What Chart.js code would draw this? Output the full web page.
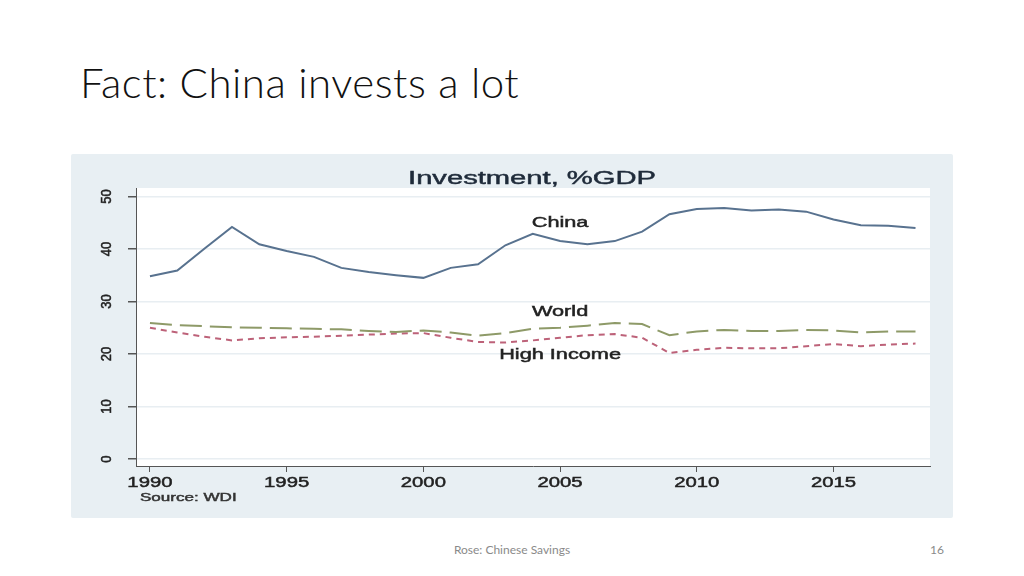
<!DOCTYPE html>
<html>
<head>
<meta charset="utf-8">
<title>Fact: China invests a lot</title>
<script src="https://cdn.jsdelivr.net/npm/chart.js@4.4.1/dist/chart.umd.min.js"></script>
<style>
  html, body { margin: 0; padding: 0; background: #fff; }
  body { width: 1024px; height: 576px; position: relative; overflow: hidden; font-family: Lato, "Open Sans", sans-serif; }
  #slideTitle { position: absolute; left: 80px; top: 61px; font-size: 42px; font-weight: 300; line-height: 1; letter-spacing: 0.5px; color: #111; white-space: nowrap; }
  #panel { position: absolute; left: 71px; top: 154px; width: 882px; height: 364px; background: #e8eff3; border-radius: 2px; }
  #footer { position: absolute; left: 0; width: 1024px; top: 542px; text-align: center; font-size: 12px; color: #8a8a8a; }
  #pageNum { position: absolute; right: 80px; top: 542px; font-size: 12px; color: #8a8a8a; }
</style>
</head>
<body>
<div id="slideTitle">Fact: China invests a lot</div>
<div id="panel"><canvas id="chart"></canvas></div>
<div id="footer">Rose: Chinese Savings</div>
<div id="pageNum">16</div>

<script>
// World Bank WDI, gross capital formation as % of GDP
const years = [1990, 1991, 1992, 1993, 1994, 1995, 1996, 1997, 1998, 1999,
               2000, 2001, 2002, 2003, 2004, 2005, 2006, 2007, 2008, 2009,
               2010, 2011, 2012, 2013, 2014, 2015, 2016, 2017, 2018];
const china = [34.8, 35.9, 40.1, 44.2, 40.9, 39.6, 38.5, 36.4, 35.6, 35.0,
               34.5, 36.4, 37.1, 40.7, 42.9, 41.5, 40.9, 41.5, 43.3, 46.6,
               47.6, 47.8, 47.3, 47.5, 47.1, 45.6, 44.5, 44.4, 44.0];
const world = [25.9, 25.5, 25.3, 25.1, 25.0, 24.9, 24.8, 24.7, 24.4, 24.2,
               24.5, 24.1, 23.5, 24.0, 24.8, 25.0, 25.4, 25.9, 25.7, 23.6,
               24.3, 24.6, 24.4, 24.4, 24.6, 24.5, 24.1, 24.3, 24.3];
const highIncome = [25.0, 24.1, 23.3, 22.6, 23.0, 23.2, 23.3, 23.5, 23.7, 23.9,
                    24.0, 23.1, 22.3, 22.2, 22.6, 23.1, 23.6, 23.8, 23.1, 20.2,
                    20.8, 21.2, 21.1, 21.1, 21.5, 21.9, 21.5, 21.8, 22.0];
const seriesNames = ['China', 'World', 'High Income'];
const xTicks = [1990, 1995, 2000, 2005, 2010, 2015];
const yTicks = [0, 10, 20, 30, 40, 50];

const toPoints = vals => years.map((yr, i) => ({ x: yr, y: vals[i] }));

// stata style text is quite wide and a bit heavy, so stretch it and stroke it lightly
function wideText(ctx, text, x, y, size, sx, color, align) {
  ctx.save();
  ctx.translate(x, y);
  ctx.scale(sx, 1);
  ctx.font = size + 'px "Liberation Sans", Arial, sans-serif';
  ctx.fillStyle = color;
  ctx.strokeStyle = color;
  ctx.lineWidth = 0.45;
  ctx.textAlign = align || 'center';
  ctx.textBaseline = 'middle';
  ctx.fillText(text, 0, 0);
  ctx.strokeText(text, 0, 0);
  ctx.restore();
}

const stataText = {
  id: 'stataText',
  beforeDraw(chart) {
    const { ctx, chartArea: a } = chart;
    ctx.save();
    ctx.fillStyle = '#ffffff';
    ctx.fillRect(a.left, a.top, a.right - a.left, a.bottom - a.top);
    ctx.restore();
  },
  afterDraw(chart) {
    const { ctx, chartArea: a, scales } = chart;
    const x = scales.x, y = scales.y;

    wideText(ctx, 'Investment, %GDP', 461, 25, 18, 1.62, '#1f2b3a');

    xTicks.forEach(v => {
      wideText(ctx, String(v), x.getPixelForValue(v), a.bottom + 17, 14, 1.45, '#222');
    });

    yTicks.forEach(v => {
      ctx.save();
      ctx.translate(a.left - 29, y.getPixelForValue(v));
      ctx.rotate(-Math.PI / 2);
      ctx.scale(1, 1.1);
      ctx.font = '13px "Liberation Sans", Arial, sans-serif';
      ctx.fillStyle = '#222';
      ctx.strokeStyle = '#222';
      ctx.lineWidth = 0.45;
      ctx.textAlign = 'center';
      ctx.textBaseline = 'middle';
      ctx.fillText(String(v), 0, 0);
      ctx.strokeText(String(v), 0, 0);
      ctx.restore();
    });

    // series labels placed inside the plot, like the original
    const labelAt = [[2005, 44.9], [2005, 27.9], [2005, 19.8]];
    seriesNames.forEach((name, i) => {
      wideText(ctx, name, x.getPixelForValue(labelAt[i][0]), y.getPixelForValue(labelAt[i][1]),
               14, 1.55, '#222');
    });

    wideText(ctx, 'Source: WDI', 69, 344, 11, 1.55, '#333', 'left');
  }
};

new Chart(document.getElementById('chart'), {
  type: 'line',
  data: {
    datasets: [
      {
        label: seriesNames[0],
        data: toPoints(china),
        borderColor: '#58728f',
        borderWidth: 2
      },
      {
        label: seriesNames[1],
        data: toPoints(world),
        borderColor: '#8e9a68',
        borderWidth: 2,
        borderDash: [22, 8]
      },
      {
        label: seriesNames[2],
        data: toPoints(highIncome),
        borderColor: '#bd6279',
        borderWidth: 2,
        borderDash: [6, 5]
      }
    ]
  },
  options: {
    responsive: true,
    maintainAspectRatio: false,
    animation: false,
    events: [],
    elements: { point: { radius: 0 }, line: { tension: 0 } },
    layout: { padding: { left: 0, right: 23, top: 34, bottom: 0 } },
    plugins: { legend: { display: false }, title: { display: false }, tooltip: { enabled: false } },
    scales: {
      x: {
        type: 'linear',
        min: 1989.49,
        max: 2018.53,
        afterBuildTicks: s => { s.ticks = xTicks.map(v => ({ value: v })); },
        afterFit: s => { s.height = 52; },
        ticks: { display: false },
        grid: { drawOnChartArea: false, drawTicks: true, tickLength: 6, tickColor: '#555' },
        border: { color: '#555', width: 1 }
      },
      y: {
        min: -1.3,
        max: 51.6,
        afterBuildTicks: s => { s.ticks = yTicks.map(v => ({ value: v })); },
        afterFit: s => { s.width = 65; },
        ticks: { display: false },
        grid: { color: '#e8eef2', lineWidth: 1.5, drawTicks: true, tickLength: 8, tickColor: '#555' },
        border: { color: '#555', width: 1 }
      }
    }
  },
  plugins: [stataText]
});
</script>
</body>
</html>
